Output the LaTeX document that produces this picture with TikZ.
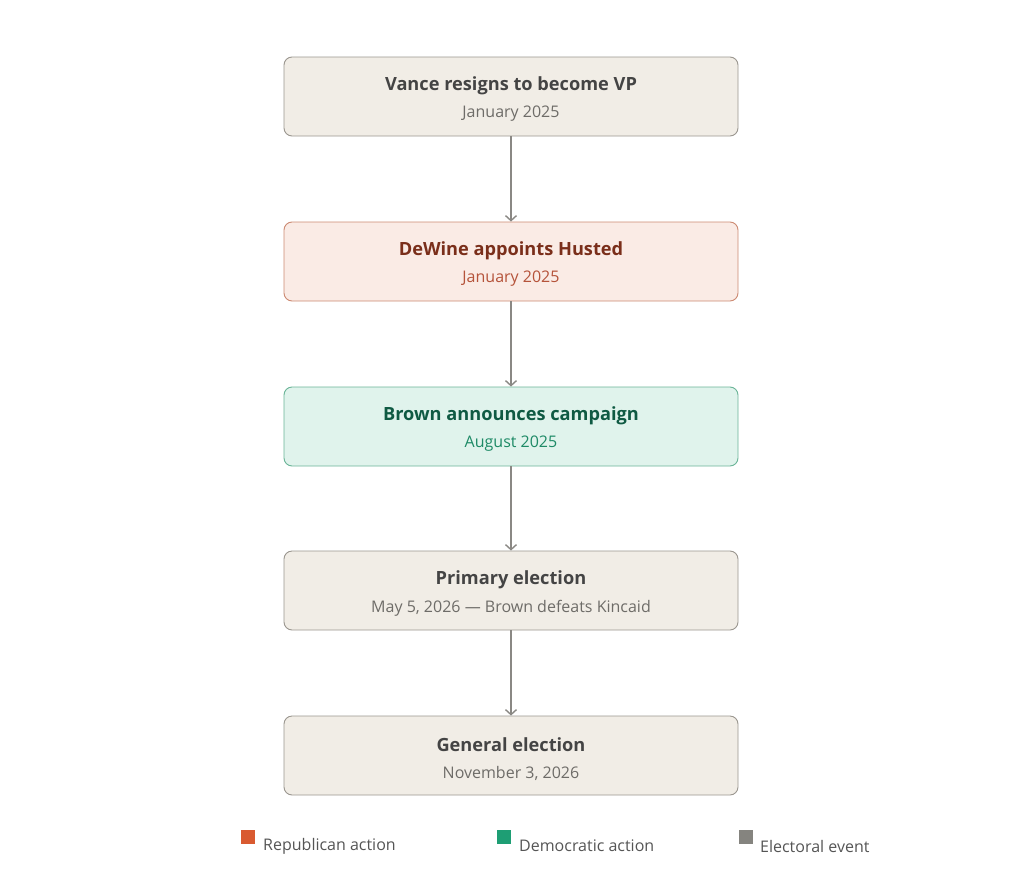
\documentclass[tikz,border=0pt]{standalone}
\usepackage{fontspec}
\setmainfont{Open Sans}
\usetikzlibrary{arrows.meta}
\definecolor{gfill}{HTML}{F1EDE6}
\definecolor{gdraw}{HTML}{9A968F}
\definecolor{gtitle}{HTML}{444444}
\definecolor{gsub}{HTML}{6E6C68}
\definecolor{rfill}{HTML}{FAEBE5}
\definecolor{rdraw}{HTML}{CC8A72}
\definecolor{rtitle}{HTML}{7A2E1A}
\definecolor{rsub}{HTML}{B5533A}
\definecolor{dfill}{HTML}{E0F3EC}
\definecolor{ddraw}{HTML}{6AB497}
\definecolor{dtitle}{HTML}{0F5A43}
\definecolor{dsub}{HTML}{1E8A66}
\definecolor{arrowc}{HTML}{8A8884}
\definecolor{legR}{HTML}{D95A30}
\definecolor{legD}{HTML}{1E9E74}
\definecolor{legG}{HTML}{85847F}
\definecolor{legtext}{HTML}{555555}
\tikzset{
  evbox/.style={draw, line width=0.9pt, rounded corners=8pt, minimum width=454pt, minimum height=79pt, inner sep=0pt, align=center},
  ttl/.style={font=\fontsize{18.2}{20}\selectfont\bfseries},
  sub/.style={font=\fontsize{16}{18}\selectfont},
  conn/.style={draw=arrowc, line width=1.7pt, -{Straight Barb[length=5pt,width=11pt,line width=1.4pt]}},
  legsq/.style={minimum size=14pt, inner sep=0pt},
  legtx/.style={font=\fontsize{16}{18}\selectfont, text=legtext, anchor=west, inner sep=0pt}
}
\begin{document}
\begin{tikzpicture}[x=1pt,y=-1pt]
\useasboundingbox (0,0) rectangle (1023,881);
\node[evbox, fill=gfill, draw=gdraw] (b1) at (511,96.5) {};
\node[evbox, fill=rfill, draw=rdraw] (b2) at (511,261.5) {};
\node[evbox, fill=dfill, draw=ddraw] (b3) at (511,426.5) {};
\node[evbox, fill=gfill, draw=gdraw] (b4) at (511,590.5) {};
\node[evbox, fill=gfill, draw=gdraw] (b5) at (511,755.5) {};
\node[ttl, text=gtitle] (t1) at (511,86) {Vance resigns to become VP};
\node[sub, text=gsub] (s1) at (511,114) {January 2025};
\node[ttl, text=rtitle] (t2) at (511,251) {DeWine appoints Husted};
\node[sub, text=rsub] (s2) at (511,279) {January 2025};
\node[ttl, text=dtitle] (t3) at (511,416) {Brown announces campaign};
\node[sub, text=dsub] (s3) at (511,444) {August 2025};
\node[ttl, text=gtitle] (t4) at (511,580) {Primary election};
\node[sub, text=gsub] (s4) at (511,608) {May 5, 2026 — Brown defeats Kincaid};
\node[ttl, text=gtitle] (t5) at (511,745) {General election};
\node[sub, text=gsub] (s5) at (511,773) {November 3, 2026};
\draw[conn] (b1.south) -- (b2.north);
\draw[conn] (b2.south) -- (b3.north);
\draw[conn] (b3.south) -- (b4.north);
\draw[conn] (b4.south) -- (b5.north);
\node[legsq, fill=legR] (l1) at (248,837) {};
\node[legtx] (lt1) at (263,846) {Republican action};
\node[legsq, fill=legD] (l2) at (504,837) {};
\node[legtx] (lt2) at (519,846) {Democratic action};
\node[legsq, fill=legG] (l3) at (746,837) {};
\node[legtx] (lt3) at (760,846) {Electoral event};
\end{tikzpicture}
\end{document}
